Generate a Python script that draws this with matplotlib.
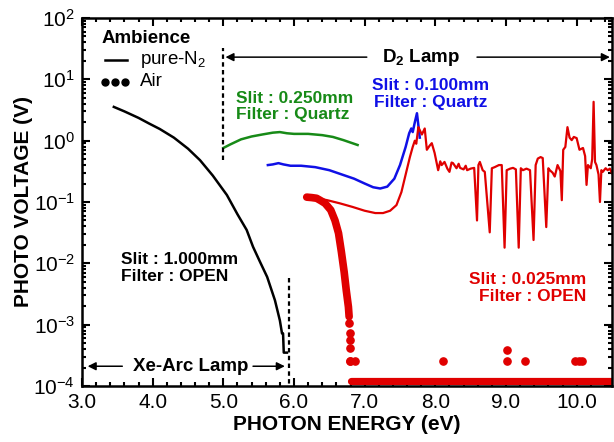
import matplotlib
matplotlib.use('Agg')
import matplotlib.pyplot as plt
from matplotlib.ticker import MultipleLocator, LogLocator, NullFormatter

plt.rcParams['font.family'] = ['Liberation Sans', 'DejaVu Sans']
plt.rcParams['mathtext.fontset'] = 'custom'
plt.rcParams['mathtext.rm'] = 'Liberation Sans'
plt.rcParams['mathtext.bf'] = 'Liberation Sans:bold'
plt.rcParams['mathtext.default'] = 'regular'

# Xe-Arc lamp, slit 1.000mm, open filter (pure N2)
xe_x = [3.45, 3.60, 3.80, 3.95, 4.10, 4.30, 4.50, 4.67, 4.85, 5.05, 5.20, 5.33,
        5.42, 5.52, 5.62, 5.73, 5.80, 5.83, 5.845, 5.855, 5.90]
xe_y = [3.55, 3.0, 2.35, 1.9, 1.55, 1.12, 0.74, 0.48, 0.27, 0.13, 0.063, 0.035,
        0.0186, 0.0105, 0.006, 0.0025, 0.00117, 7.2e-4, 7.2e-4, 3.5e-4, 3.5e-4]

# D2 lamp, slit 0.250mm, quartz filter
d2q250_x = [5.00, 5.10, 5.25, 5.40, 5.55, 5.70, 5.80, 5.90, 6.00, 6.20, 6.40, 6.55, 6.70, 6.90]
d2q250_y = [0.76, 0.87, 1.05, 1.17, 1.26, 1.35, 1.38, 1.32, 1.29, 1.29, 1.23, 1.15, 1.02, 0.85]

# D2 lamp, slit 0.100mm, quartz filter
d2q100_x = [5.63, 5.70, 5.78, 5.85, 5.95, 6.10, 6.30, 6.50, 6.70, 6.85, 7.00, 7.12,
            7.22, 7.32, 7.42, 7.50, 7.58, 7.63, 7.66, 7.68, 7.71, 7.74, 7.76, 7.78]
d2q100_y = [0.40, 0.41, 0.43, 0.41, 0.39, 0.39, 0.37, 0.33, 0.275, 0.24, 0.20, 0.174,
            0.166, 0.178, 0.24, 0.40, 0.79, 1.32, 1.58, 1.38, 2.0, 2.8, 1.78, 1.12]

# D2 lamp, slit 0.025mm, open filter (pure N2)
d2o_x = [6.18, 6.30, 6.47, 6.65, 6.83, 7.00, 7.15, 7.26, 7.36, 7.45, 7.52, 7.58,
         7.64, 7.68, 7.71, 7.73, 7.76, 7.78, 7.81, 7.85, 7.88, 7.92, 7.95, 7.99,
         8.04, 8.07, 8.09, 8.13, 8.17, 8.20, 8.23, 8.25, 8.30, 8.33, 8.35, 8.40,
         8.43, 8.45, 8.50, 8.55,
         8.59, 8.61, 8.63, 8.67, 8.70, 8.77, 8.80, 8.84, 8.90, 8.94, 8.98, 9.01,
         9.06, 9.10, 9.14, 9.18, 9.21, 9.24, 9.29, 9.34, 9.39, 9.42, 9.45, 9.49,
         9.52, 9.57, 9.60, 9.62, 9.66, 9.69, 9.73, 9.77, 9.79, 9.81, 9.84, 9.87,
         9.90, 9.93, 9.96, 10.00, 10.04, 10.09, 10.12, 10.14, 10.16, 10.20, 10.22, 10.24,
         10.26, 10.28, 10.31, 10.33, 10.35, 10.37, 10.41, 10.44, 10.47, 10.50]
d2o_y = [0.12, 0.117, 0.107, 0.095, 0.083, 0.072, 0.066, 0.066, 0.072, 0.089, 0.145, 0.28,
         0.54, 0.79, 1.0, 0.89, 1.66, 1.48, 1.26, 1.58, 0.71, 0.83, 0.91, 0.63,
         0.33, 0.46, 0.40, 0.45, 0.35, 0.31, 0.44, 0.43, 0.355, 0.42, 0.36, 0.34,
         0.39, 0.33, 0.35, 0.36,
         0.050, 0.40, 0.45, 0.33, 0.31, 0.032, 0.355, 0.37, 0.40, 0.40, 0.018, 0.33,
         0.35, 0.36, 0.34, 0.018, 0.355, 0.33, 0.35, 0.33, 0.024, 0.40, 0.51, 0.54,
         0.52, 0.039, 0.355, 0.33, 0.30, 0.26, 0.40, 0.32, 0.107, 0.71, 0.79, 1.66,
         1.12, 1.02, 1.15, 1.10, 0.71, 0.76, 0.56, 0.19, 0.40, 0.355, 0.50, 4.3,
         0.45, 0.40, 0.28, 0.10, 0.33, 0.31, 0.355, 0.33, 0.35, 0.295]

# D2 lamp, slit 0.025mm, open filter (air)
air_x = [6.18, 6.25, 6.32, 6.38, 6.44, 6.52, 6.58, 6.63, 6.67, 6.71, 6.74, 6.77, 6.78]
air_y = [0.12, 0.118, 0.115, 0.105, 0.095, 0.074, 0.050, 0.031, 0.0155, 0.0072,
         0.0036, 0.00195, 0.00135]
air_dot_x = [6.78, 6.79, 6.79, 6.795, 6.795, 6.79, 6.86, 8.11, 9.01, 9.01, 9.27, 9.97, 10.03, 10.08]
air_dot_y = [1.05e-3, 7.2e-4, 5.6e-4, 4.1e-4, 2.6e-4, 2.6e-4, 2.6e-4, 2.6e-4, 2.6e-4,
             3.9e-4, 2.6e-4, 2.6e-4, 2.6e-4, 2.6e-4]
air_floor_x = [6.80, 10.50]
air_floor_y = [1.2e-4, 1.2e-4]

x_ticks = [3, 4, 5, 6, 7, 8, 9, 10]
x_tick_labels = ['3.0', '4.0', '5.0', '6.0', '7.0', '8.0', '9.0', '10.0']
y_ticks = [1e-4, 1e-3, 1e-2, 1e-1, 1e0, 1e1, 1e2]
y_tick_labels = ['$10^{-4}$', '$10^{-3}$', '$10^{-2}$', '$10^{-1}$', '$10^{0}$', '$10^{1}$', '$10^{2}$']

RED = '#e00000'
GREEN = '#178a17'
BLUE = '#1010e6'

fig = plt.figure(figsize=(6.14, 4.42), dpi=100)
ax = fig.add_axes([0.1336, 0.1267, 0.8631, 0.8326])
ax.set_yscale('log')

ax.plot(xe_x, xe_y, color='black', lw=1.8)
ax.plot(d2q250_x, d2q250_y, color=GREEN, lw=1.8)
ax.plot(d2q100_x, d2q100_y, color=BLUE, lw=1.8)
ax.plot(air_x, air_y, color=RED, lw=5.5, solid_capstyle='round', solid_joinstyle='round')
ax.plot(air_dot_x, air_dot_y, 'o', color=RED, ms=5.2, mec=RED)
ax.plot(air_floor_x, air_floor_y, color=RED, lw=5.2, solid_capstyle='round')
ax.plot(d2o_x, d2o_y, color=RED, lw=1.6)

# lamp ranges
ax.plot([5.0, 5.0], [0.48, 32], color='black', lw=1.6, ls=(0, (2, 1.5)))
ax.plot([5.93, 5.93], [0.0058, 1e-4], color='black', lw=1.6, ls=(0, (2, 1.5)))
arrow = dict(arrowstyle='-|>', color='black', lw=1.1, mutation_scale=12, shrinkA=0, shrinkB=0)
ax.annotate('', xy=(5.03, 23), xytext=(7.03, 23), arrowprops=arrow)
ax.annotate('', xy=(10.47, 23), xytext=(8.59, 23), arrowprops=arrow)
ax.text(7.80, 23, 'D$_2$ Lamp', fontsize=13.5, fontweight='bold', ha='center', va='center')
ax.annotate('', xy=(3.08, 2.1e-4), xytext=(3.57, 2.1e-4), arrowprops=arrow)
ax.annotate('', xy=(5.87, 2.1e-4), xytext=(5.42, 2.1e-4), arrowprops=arrow)
ax.text(4.54, 2.1e-4, 'Xe-Arc Lamp', fontsize=13.5, fontweight='bold', ha='center', va='center')

# condition labels
ax.text(3.55, 0.0083, 'Slit : 1.000mm\nFilter : OPEN', fontsize=12.5, fontweight='bold',
        ha='left', va='center', linespacing=1.15)
ax.text(5.18, 3.6, 'Slit : 0.250mm\nFilter : Quartz', fontsize=12.5, fontweight='bold',
        color=GREEN, ha='left', va='center', linespacing=1.15)
ax.text(7.93, 5.8, 'Slit : 0.100mm\nFilter : Quartz', fontsize=12.5, fontweight='bold',
        color=BLUE, ha='center', va='center', linespacing=1.15)
ax.text(10.14, 0.0040, 'Slit : 0.025mm\nFilter : OPEN', fontsize=12.5, fontweight='bold',
        color=RED, ha='right', va='center', linespacing=1.15)

# legend drawn by hand
ax.text(3.28, 47, 'Ambience', fontsize=13.5, fontweight='bold', ha='left', va='center')
ax.plot([3.33, 3.64], [20.7, 20.7], color='black', lw=1.8)
ax.text(3.82, 20.7, 'pure-N$_2$', fontsize=13.5, ha='left', va='center')
ax.plot([3.33, 3.47, 3.61], [9.1, 9.1, 9.1], 'o', color='black', ms=5)
ax.text(3.82, 9.1, 'Air', fontsize=13.5, ha='left', va='center')

ax.set_xlim(3.0, 10.5)
ax.set_ylim(1e-4, 1e2)
ax.set_xticks(x_ticks)
ax.set_xticklabels(x_tick_labels)
ax.set_yticks(y_ticks)
ax.set_yticklabels(y_tick_labels)
ax.xaxis.set_minor_locator(MultipleLocator(0.2))
ax.yaxis.set_minor_locator(LogLocator(base=10, subs=range(2, 10), numticks=20))
ax.yaxis.set_minor_formatter(NullFormatter())
ax.tick_params(which='both', direction='in', top=True, right=True, labelsize=15, width=1.5)
ax.tick_params(which='major', length=6, pad=5)
ax.tick_params(which='minor', length=3)
for s in ax.spines.values():
    s.set_linewidth(1.8)

ax.set_xlabel('PHOTON ENERGY (eV)', fontsize=15, fontweight='bold', labelpad=2)
ax.set_ylabel('PHOTO VOLTAGE (V)', fontsize=15, fontweight='bold', labelpad=0)

fig.savefig('out.png', dpi=100)
